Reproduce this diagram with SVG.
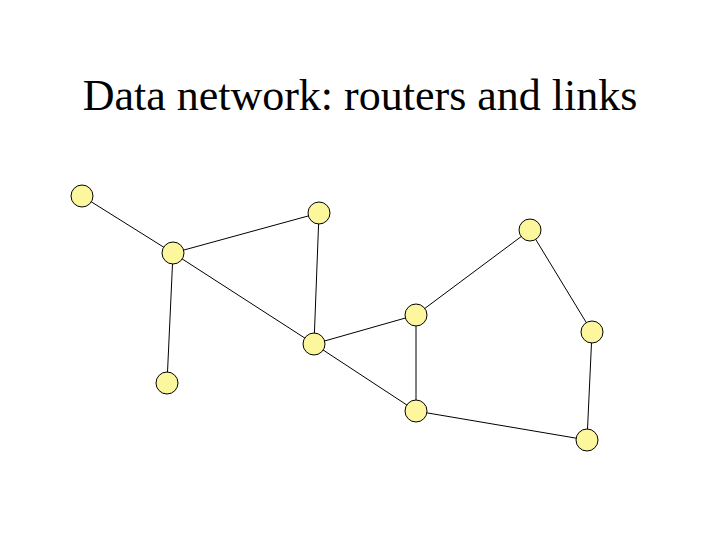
<svg xmlns="http://www.w3.org/2000/svg" width="720" height="540" viewBox="0 0 720 540">
<style>
.node{fill:#FCF69C;stroke:#000;stroke-width:1}
.edge{stroke:#000;stroke-width:1;fill:none}
.title{font-family:"Liberation Serif","Times New Roman",serif;font-size:44px;fill:#000}
</style>
<rect width="720" height="540" fill="#fff"/>
<text class="title" x="360" y="110" text-anchor="middle">Data network: routers and links</text>
<g id="connectors">
<line class="edge" x1="82" y1="196" x2="173" y2="253"/>
<line class="edge" x1="173" y1="253" x2="319" y2="213"/>
<line class="edge" x1="173" y1="253" x2="167" y2="383"/>
<line class="edge" x1="173" y1="253" x2="314" y2="344"/>
<line class="edge" x1="319" y1="213" x2="314" y2="344"/>
<line class="edge" x1="314" y1="344" x2="416" y2="315"/>
<line class="edge" x1="314" y1="344" x2="416" y2="411"/>
<line class="edge" x1="416" y1="315" x2="416" y2="411"/>
<line class="edge" x1="416" y1="315" x2="530" y2="230"/>
<line class="edge" x1="530" y1="230" x2="592" y2="332"/>
<line class="edge" x1="592" y1="332" x2="587" y2="440"/>
<line class="edge" x1="416" y1="411" x2="587" y2="440"/>
</g>
<g id="n1"><circle class="node" cx="82" cy="196" r="11"/></g>
<g id="n2"><circle class="node" cx="173" cy="253" r="11"/></g>
<g id="n3"><circle class="node" cx="319" cy="213" r="11"/></g>
<g id="n4"><circle class="node" cx="167" cy="383" r="11"/></g>
<g id="n5"><circle class="node" cx="314" cy="344" r="11"/></g>
<g id="n6"><circle class="node" cx="416" cy="315" r="11"/></g>
<g id="n7"><circle class="node" cx="416" cy="411" r="11"/></g>
<g id="n8"><circle class="node" cx="530" cy="230" r="11"/></g>
<g id="n9"><circle class="node" cx="592" cy="332" r="11"/></g>
<g id="n10"><circle class="node" cx="587" cy="440" r="11"/></g>
</svg>
